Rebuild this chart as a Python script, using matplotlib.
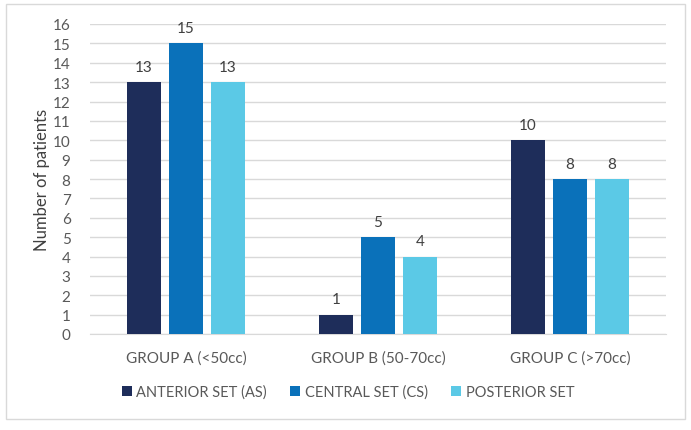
import matplotlib
matplotlib.use("Agg")
import matplotlib.pyplot as plt
from matplotlib.patches import Rectangle
import numpy as np

categories = ["GROUP A (<50cc)", "GROUP B (50-70cc)", "GROUP C (>70cc)"]
series_names = ["ANTERIOR SET (AS)", "CENTRAL SET (CS)", "POSTERIOR SET"]
anterior = [13, 1, 10]
central = [15, 5, 8]
posterior = [13, 4, 8]
yticks = list(range(0, 17))

colors = ["#1E2D5A", "#0A71BA", "#5BC9E6"]
plt.rcParams['font.family'] = ['Lato', 'DejaVu Sans']

fig = plt.figure(figsize=(6.91, 4.31), dpi=100)
fig.patches.append(Rectangle((6/691, 1-420/431), 679/691, 415/431, transform=fig.transFigure,
                             fill=False, edgecolor="#D9D9D9", linewidth=1))
ax = fig.add_axes([90/691, 1-335/431, 576/691, 310/431])

x = np.arange(len(categories))
width = 34/192
step = 42/192
for i, (vals, name) in enumerate(zip([anterior, central, posterior], series_names)):
    pos = x + (i-1)*step
    ax.bar(pos, vals, width, color=colors[i], label=name, zorder=3)
    for p, v in zip(pos, vals):
        ax.annotate(str(v), (p, v), xytext=(0, 6), textcoords="offset points",
                    ha="center", va="bottom", fontsize=11, color="#404040")

ax.set_xlim(-0.5, 2.5)
ax.set_ylim(0, 16)
ax.set_yticks(yticks)
ax.set_xticks(x)
ax.set_xticklabels(categories)
ax.tick_params(axis='both', length=0, labelsize=11, colors="#595959")
ax.tick_params(axis='x', pad=12)
ax.tick_params(axis='y', pad=14)
ax.grid(axis='y', color="#D9D9D9", linewidth=1, zorder=0)
for s in ["top", "right", "left"]:
    ax.spines[s].set_visible(False)
ax.spines["bottom"].set_color("#D9D9D9")
ax.set_ylabel("Number of patients", fontsize=12, color="#404040", va="center")
ax.yaxis.set_label_coords(-48/576, 0.5)

fig.legend(loc="center", bbox_to_anchor=(348/691, 1-393/431), ncol=3, frameon=False,
           fontsize=10.5, handlelength=0.7, handleheight=0.7, handletextpad=0.3,
           columnspacing=1.6, labelcolor="#595959")

fig.savefig("out.png", dpi=100)
